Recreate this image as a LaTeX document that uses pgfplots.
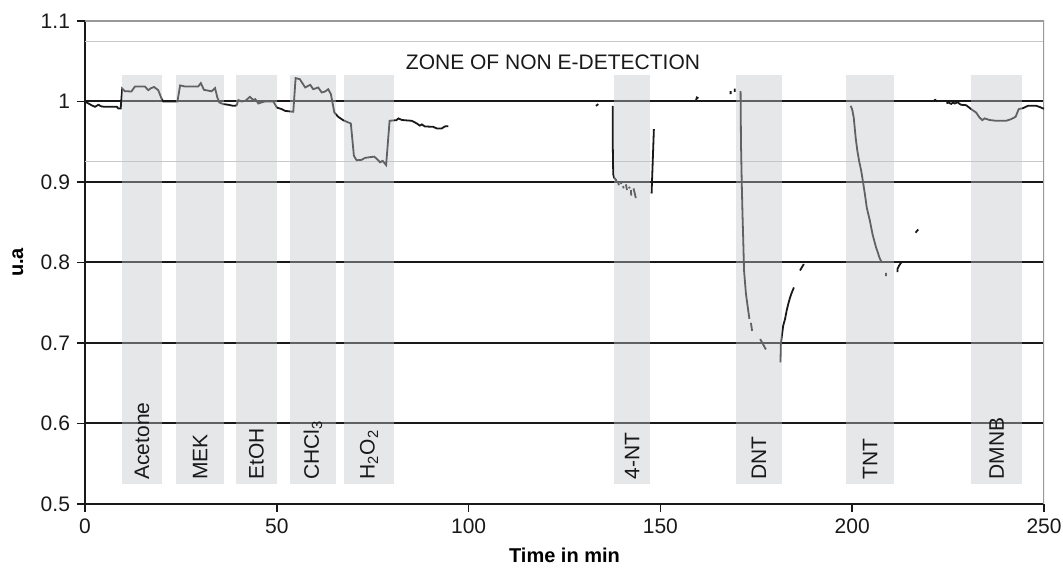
\documentclass[border=0pt]{standalone}
\usepackage{fontspec}
\setmainfont{Liberation Sans}
\usepackage{pgfplots}
\pgfplotsset{compat=1.18}
\usepackage{pgfplotstable}

\definecolor{bandgray}{rgb}{0.767,0.776,0.795}
\definecolor{zonegray}{gray}{0.78}
\definecolor{framegray}{gray}{0.60}
\definecolor{ink}{gray}{0.10}
\newcommand{\chartfont}{\fontsize{10.5}{12.6}\selectfont}

% sensor response (normalised), nan breaks the trace where no data was logged
\pgfplotstableread{
t v
0 1.000
0.9 0.9975
1.7 0.9954
2.6 0.9934
3.5 0.9959
4.3 0.9938
5.2 0.9934
7.0 0.9934
8.3 0.9934
8.7 0.9913
9.3 0.9913
9.7 1.0160
10.4 1.0128
12.1 1.0124
13.0 1.0185
15.6 1.0187
16.5 1.0140
17.2 1.0165
18.0 1.0180
19.1 1.0140
20.0 1.0030
20.4 1.0000
24.1 1.0000
24.8 1.0200
26.0 1.0187
29.5 1.0186
30.2 1.0228
31.0 1.0145
32.1 1.0135
33.0 1.0126
33.9 1.0166
34.5 1.0050
35.0 0.9988
36.1 0.9967
37.4 0.9959
38.6 0.9946
39.5 0.9950
40.0 1.0017
40.8 1.0000
41.8 1.0008
43.0 1.0058
43.9 1.0017
44.4 1.0029
45.2 0.9975
46.0 0.9988
46.9 1.0000
49.1 1.0000
50.0 0.9925
51.3 0.9905
52.1 0.9884
53.5 0.9876
54.3 0.9872
54.9 1.0290
56.0 1.0277
57.4 1.0174
58.7 1.0207
59.5 1.0153
60.8 1.0174
61.7 1.0112
62.6 1.0124
63.4 1.0153
64.1 1.0091
65.0 0.9863
66.0 0.9810
67.3 0.9768
68.6 0.9740
69.3 0.9727
70.1 0.9325
70.8 0.9270
72.1 0.9275
73.0 0.9300
75.4 0.9315
76.0 0.9290
76.9 0.9245
77.6 0.9262
78.5 0.9210
79.4 0.9760
81.2 0.9768
81.7 0.9790
82.6 0.9770
85.2 0.9760
86.5 0.9727
87.3 0.9700
87.8 0.9715
88.6 0.9690
90.8 0.9685
91.7 0.9665
93.0 0.9665
93.8 0.9690
94.7 0.9694
nan nan
133.2 0.9946
133.8 0.9967
nan nan
137.6 0.9946
137.6 0.9408
137.7 0.9100
137.9 0.9056
138.6 0.9014
nan nan
139.0 0.8990
139.2 0.8960
nan nan
139.6 0.9010
139.8 0.8975
nan nan
140.3 0.8950
140.4 0.8920
nan nan
141.0 0.8970
141.3 0.8900
nan nan
141.8 0.8940
142.0 0.8920
nan nan
142.3 0.8900
142.4 0.8830
nan nan
143.0 0.8920
143.6 0.8800
nan nan
147.7 0.8857
148.3 0.9656
nan nan
159.2 1.0000
159.5 1.0050
159.9 1.0040
nan nan
168.3 1.0090
168.3 1.0130
nan nan
169.4 1.0120
169.4 1.0160
nan nan
170.9 1.0130
171.0 0.9500
171.2 0.9000
171.4 0.8600
171.6 0.8270
171.8 0.7900
172.3 0.7610
172.9 0.7400
173.2 0.7300
nan nan
173.6 0.7250
173.9 0.7150
nan nan
176.0 0.7050
176.8 0.6980
177.5 0.6920
nan nan
181.3 0.6760
181.4 0.6990
182.0 0.7213
182.5 0.7300
182.9 0.7400
183.3 0.7480
183.8 0.7565
184.2 0.7620
184.8 0.7690
nan nan
186.4 0.7900
187.0 0.7950
187.4 0.7980
nan nan
199.6 0.9946
200.0 0.9900
200.4 0.9800
200.9 0.9550
201.3 0.9400
201.8 0.9260
202.3 0.9150
202.7 0.9035
203.3 0.8850
203.8 0.8680
204.2 0.8600
204.6 0.8520
205.3 0.8350
205.8 0.8260
206.2 0.8190
206.7 0.8120
207.1 0.8060
207.7 0.8000
nan nan
208.8 0.7870
208.8 0.7830
nan nan
211.8 0.7880
211.8 0.7920
212.2 0.7960
212.8 0.8000
nan nan
216.5 0.8370
217.2 0.8410
nan nan
221.1 1.0000
221.6 1.0020
222.2 1.0000
nan nan
224.6 0.9975
225.0 0.9988
225.8 0.9970
226.3 0.9988
226.7 0.9975
227.5 0.9990
228.0 0.9970
228.4 0.9959
229.7 0.9954
231.0 0.9905
232.3 0.9863
233.2 0.9800
233.9 0.9768
234.5 0.9790
235.8 0.9770
237.5 0.9760
240.1 0.9760
241.4 0.9780
242.6 0.9810
243.4 0.9905
244.5 0.9917
245.8 0.9946
248.0 0.9946
249.0 0.9930
249.5 0.9917
250.0 0.9910
}\response

\begin{document}
\begin{tikzpicture}
\begin{axis}[
  scale only axis,
  width=479.5pt, height=241.5pt,
  xmin=0, xmax=250, ymin=0.5, ymax=1.1,
  axis x line*=bottom, axis y line*=left,
  axis line style={ink, line width=1pt},
  xtick={0,50,100,150,200,250},
  xticklabels={0,50,100,150,200,250},
  ytick={0.5,0.6,0.7,0.8,0.9,1,1.1},
  yticklabels={0.5,0.6,0.7,0.8,0.9,1,1.1},
  tick align=outside,
  major tick length=4pt,
  tick style={ink, line width=0.8pt},
  tick label style={font=\chartfont, text=ink},
  ymajorgrids=true,
  grid style={ink, line width=1pt},
  unbounded coords=jump,
  clip=true,
  xlabel={\bfseries Time in min},
  ylabel={\bfseries u.a},
  label style={font=\chartfont, text=ink},
  every axis x label/.style={at={(axis description cs:0.5,-0.1056)}, anchor=center},
  every axis y label/.style={at={(axis description cs:-0.0699,0.5)}, anchor=center, rotate=90},
]
% borders of the zone of non e-detection
\draw[zonegray, line width=0.5pt] (axis cs:0,1.075) -- (axis cs:250,1.075);
\draw[zonegray, line width=0.5pt] (axis cs:0,0.925) -- (axis cs:250,0.925);
% top and right frame
\draw[framegray, line width=1pt] (axis cs:0,1.1) -- (axis cs:250,1.1) -- (axis cs:250,0.5);

\addplot[ink, line width=0.9pt, no markers] table[x=t, y=v] {\response};

% exposure windows
\fill[bandgray, fill opacity=0.42] (axis cs:9.7,0.525) rectangle (axis cs:20.0,1.033);
\fill[bandgray, fill opacity=0.42] (axis cs:23.8,0.525) rectangle (axis cs:36.2,1.033);
\fill[bandgray, fill opacity=0.42] (axis cs:39.3,0.525) rectangle (axis cs:50.0,1.033);
\fill[bandgray, fill opacity=0.42] (axis cs:53.4,0.525) rectangle (axis cs:65.4,1.033);
\fill[bandgray, fill opacity=0.42] (axis cs:67.6,0.525) rectangle (axis cs:80.5,1.033);
\fill[bandgray, fill opacity=0.42] (axis cs:138.0,0.525) rectangle (axis cs:147.3,1.033);
\fill[bandgray, fill opacity=0.42] (axis cs:169.7,0.525) rectangle (axis cs:181.7,1.033);
\fill[bandgray, fill opacity=0.42] (axis cs:198.4,0.525) rectangle (axis cs:210.9,1.033);
\fill[bandgray, fill opacity=0.42] (axis cs:231.0,0.525) rectangle (axis cs:244.3,1.033);

\begin{scope}[every node/.style={rotate=90, anchor=west, inner sep=0pt, font=\chartfont, text=ink}]
\node at (axis cs:14.85,0.5298) {Acetone};
\node at (axis cs:30.0,0.5298) {MEK};
\node at (axis cs:44.65,0.5298) {EtOH};
\node at (axis cs:59.4,0.5298) {CHCl\textsubscript{3}};
\node at (axis cs:74.05,0.5298) {H\textsubscript{2}O\textsubscript{2}};
\node at (axis cs:142.65,0.5298) {4-NT};
\node at (axis cs:175.7,0.5298) {DNT};
\node at (axis cs:204.65,0.5298) {TNT};
\node at (axis cs:237.65,0.5298) {DMNB};
\end{scope}

\node[font=\chartfont, text=ink, inner sep=0pt] at (axis cs:122.0,1.0487) {ZONE OF NON E-DETECTION};
\end{axis}
\pgfresetboundingbox
\path ([shift={(-42.5pt,-32.5pt)}]current axis.south west) rectangle ([shift={(9.5pt,10.5pt)}]current axis.north east);
\end{tikzpicture}
\end{document}
